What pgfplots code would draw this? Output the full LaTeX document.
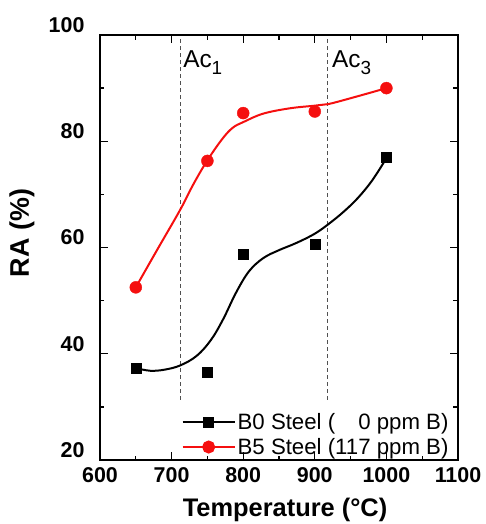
\documentclass[border=0pt]{standalone}
\usepackage{pgfplots}
\pgfplotsset{compat=1.18}
\usepackage{fontspec}
\setmainfont{Liberation Sans}
\definecolor{myred}{RGB}{245,15,15}
\definecolor{dashgray}{RGB}{80,80,80}
\begin{document}
\begin{tikzpicture}
\useasboundingbox (-100bp,-64bp) rectangle (386bp,460bp);
\begin{axis}[
  at={(0,0)}, anchor=south west,
  scale only axis, width=358bp, height=425bp,
  xmin=600, xmax=1100, ymin=20, ymax=100,
  xtick={600,700,800,900,1000,1100},
  ytick={20,40,60,80,100},
  minor x tick num=1, minor y tick num=1,
  tick align=inside,
  axis on top,
  major tick length=8bp, minor tick length=4.5bp,
  tick style={line width=1.3bp, black},
  axis line style={line width=1.3bp},
  /pgf/number format/assume math mode=true,
  /pgf/number format/1000 sep={},
  tick label style={font=\fontsize{21.5}{21.5}\selectfont\bfseries},
  yticklabel style={xshift=-12bp, yshift=10bp},
  xticklabel style={yshift=-4bp},
  xlabel={Temperature (°C)},
  ylabel={RA (\%)},
  xlabel style={font=\fontsize{25.5}{25.5}\selectfont\bfseries, at={(axis description cs:0.517,-0.117)}, anchor=center},
  ylabel style={font=\fontsize{27}{27}\selectfont\bfseries, at={(axis description cs:-0.218,0.534)}, anchor=center},
  legend style={draw=none, fill=none, at={(axis description cs:0.985,0.0)}, anchor=south east,
    font=\fontsize{22.3}{22.3}\selectfont, row sep=3bp, inner sep=2bp},
  legend cell align=left,
  legend image code/.code={\draw[mark repeat=2,mark phase=2] plot coordinates {(0bp,0bp) (26bp,0bp) (52bp,0bp)};},
]
% dashed transformation lines
\addplot[dashgray, dash pattern=on 4bp off 3bp, line width=1bp, forget plot] coordinates {(712,31.3) (712,100)};
\addplot[dashgray, dash pattern=on 4bp off 3bp, line width=1bp, forget plot] coordinates {(918,31.3) (918,100)};
\node[anchor=base west, inner sep=0pt, font=\fontsize{24.5}{24.5}\selectfont] at (axis cs:716,93.8) {Ac\raisebox{-7bp}{\fontsize{19}{19}\selectfont 1}};
\node[anchor=base west, inner sep=0pt, font=\fontsize{24.5}{24.5}\selectfont] at (axis cs:924,93.8) {Ac\raisebox{-7bp}{\fontsize{19}{19}\selectfont 3}};
% fitted curves
\addplot[black, line width=2bp, smooth, tension=0.6, forget plot] coordinates {
(650,37.3) (670,36.8) (690,37.0) (712,37.8) (735,39.6) (755,42.6) (772,46.5) (790,51.5)
(808,55.5) (828,58.0) (850,59.5) (875,60.9) (900,62.6) (920,64.5) (940,66.7) (960,69.3) (980,72.6) (1000,76.8)};
\addplot[myred, line width=2bp, smooth, tension=0.6, forget plot] coordinates {
(650,52.5) (680,59.6) (712,67.1) (730,71.8) (749,76.2) (770,80.3) (785,82.5) (800,83.6)
(828,85.2) (865,86.2) (900,86.7) (919,87.0) (958,88.4) (1000,90.0)};
% data points
\addplot[black, only marks, mark=square*, mark size=5bp, forget plot] coordinates {
(650,37.3) (750,36.5) (800,58.7) (900,60.6) (1000,77.0)};
\addplot[myred, only marks, mark=*, mark size=6bp, forget plot] coordinates {
(650,52.5) (750,76.3) (800,85.3) (900,85.6) (1000,90.0)};
\addlegendimage{black, line width=2bp, mark=square*, mark size=4.5bp}
\addlegendentry{B0 Steel (\phantom{11}0 ppm B)}
\addlegendimage{myred, line width=2bp, mark=*, mark size=5.5bp}
\addlegendentry{B5 Steel (117 ppm B)}
\end{axis}
\end{tikzpicture}
\end{document}
